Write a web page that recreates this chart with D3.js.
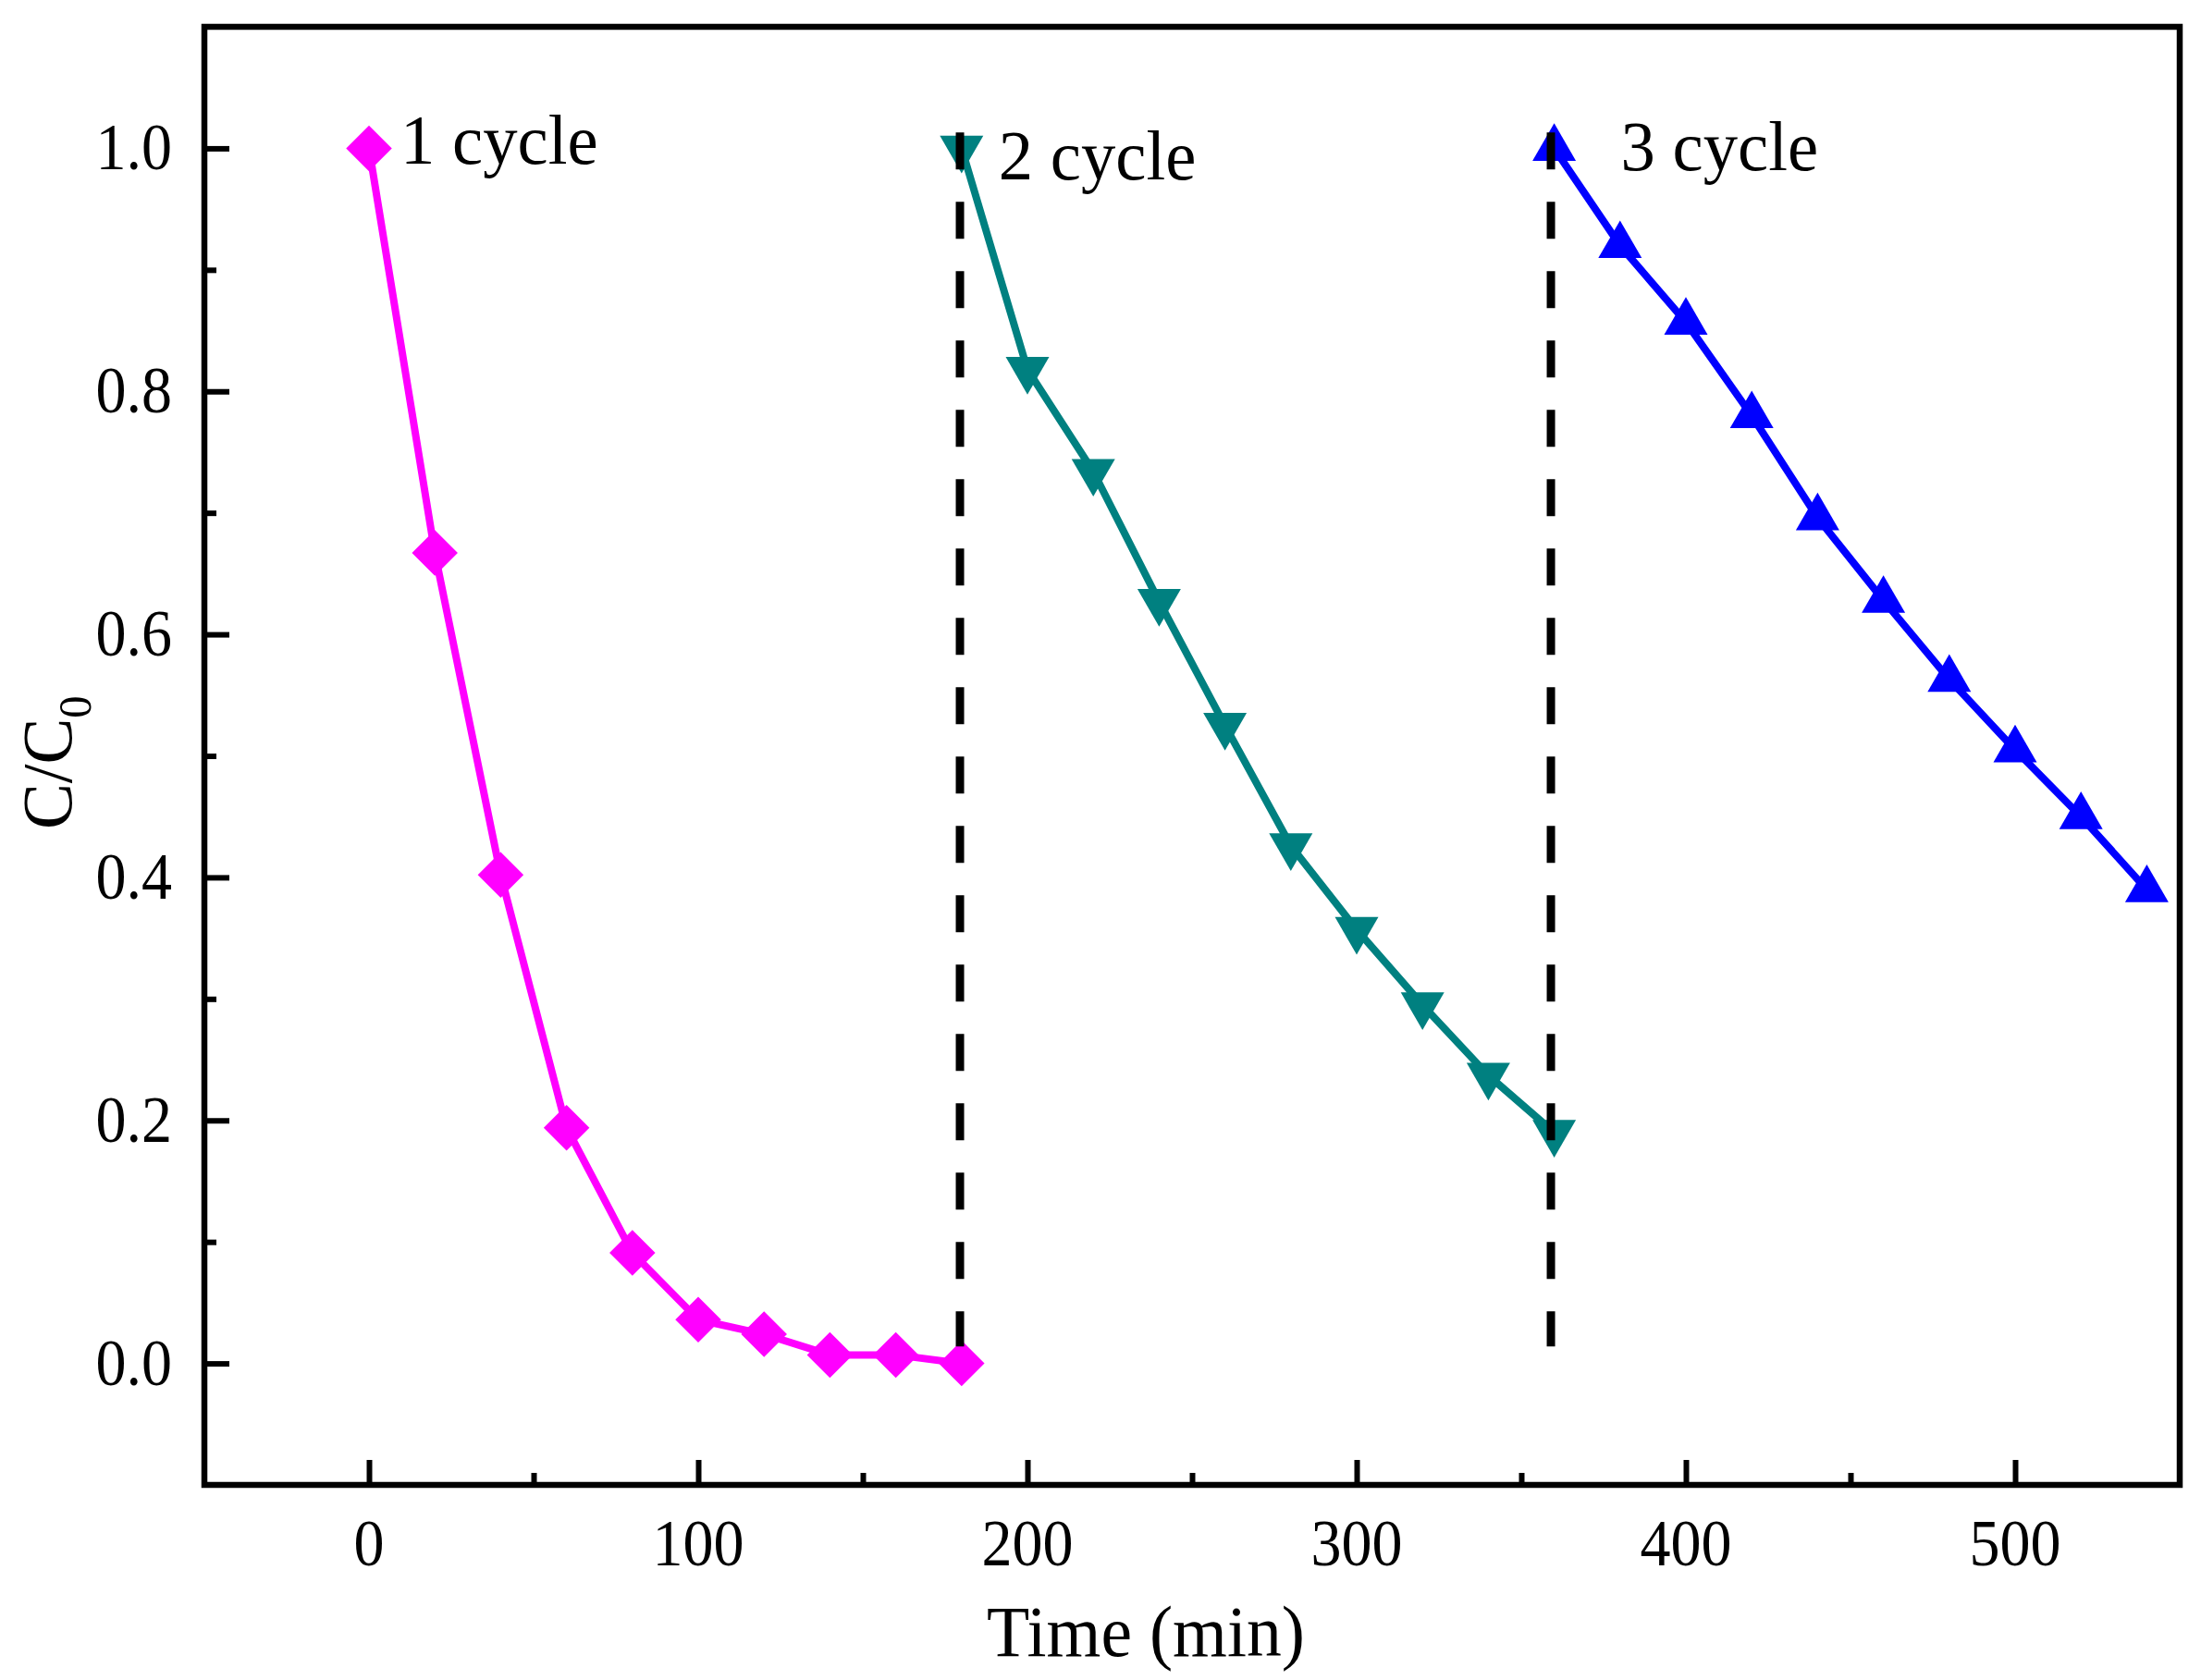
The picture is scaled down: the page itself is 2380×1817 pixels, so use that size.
<!DOCTYPE html>
<html>
<head>
<meta charset="utf-8">
<script src="https://cdn.jsdelivr.net/npm/d3@7"></script>
<style>
  html, body { margin: 0; padding: 0; background: #ffffff; }
  svg { display: block; }
  text { font-family: "Liberation Serif", "Times New Roman", serif; fill: #000; }
</style>
</head>
<body>
<script>
// ---- data ----
const time1 = [0, 20, 40, 60, 80, 100, 120, 140, 160, 180];
const cycle1 = [1.0, 0.667, 0.402, 0.194, 0.091, 0.036, 0.024, 0.007, 0.007, 0.0];
const time2 = [180, 200, 220, 240, 260, 280, 300, 320, 340, 360];
const cycle2 = [1.0, 0.818, 0.734, 0.627, 0.525, 0.426, 0.357, 0.295, 0.237, 0.19];
const time3 = [360, 380, 400, 420, 440, 460, 480, 500, 520, 540];
const cycle3 = [1.0, 0.92, 0.857, 0.78, 0.696, 0.628, 0.563, 0.505, 0.45, 0.39];
const cycleLabels = ["1 cycle", "2 cycle", "3 cycle"];
const dividerTimes = [179.5, 359];
const dividerRange = [1.013, 0.014];
const xTicks = [0, 100, 200, 300, 400, 500];
const xMinorTicks = [50, 150, 250, 350, 450];
const yTicks = [0.0, 0.2, 0.4, 0.6, 0.8, 1.0];
const yMinorTicks = [0.1, 0.3, 0.5, 0.7, 0.9];
const xDomain = [-50, 550];
const yDomain = [-0.1, 1.1];

// ---- layout ----
const W = 2380, H = 1817;
const L = 221, R = 2357, T = 29, B = 1606;
const SX_TICK = 0.93;  // horizontal condensing for tick labels
const SX_TEXT = 0.97;  // for titles and annotations

const svg = d3.select("body").append("svg").attr("width", W).attr("height", H);
svg.append("rect").attr("width", W).attr("height", H).attr("fill", "#fff");

const x = d3.scaleLinear().domain(xDomain).range([L, R]);
const y = d3.scaleLinear().domain(yDomain).range([B, T]);

// ticks (inward, bottom & left only)
const tickW = 6;
const xAxis = svg.append("g").attr("transform", `translate(0,${B})`)
  .call(d3.axisBottom(x).tickValues(xTicks).tickSize(-27).tickFormat(""));
const xAxisMinor = svg.append("g").attr("transform", `translate(0,${B})`)
  .call(d3.axisBottom(x).tickValues(xMinorTicks).tickSize(-13).tickFormat(""));
const yAxis = svg.append("g").attr("transform", `translate(${L},0)`)
  .call(d3.axisLeft(y).tickValues(yTicks).tickSize(-27).tickFormat(""));
const yAxisMinor = svg.append("g").attr("transform", `translate(${L},0)`)
  .call(d3.axisLeft(y).tickValues(yMinorTicks).tickSize(-13).tickFormat(""));
[xAxis, xAxisMinor, yAxis, yAxisMinor].forEach(g => {
  g.select(".domain").remove();
  g.selectAll(".tick line").attr("stroke", "#000").attr("stroke-width", tickW);
});

// tick labels
const tickFont = 71;
svg.append("g").selectAll("g").data(xTicks).join("g")
  .attr("transform", d => `translate(${x(d)},1693) scale(${SX_TICK},1)`)
  .append("text").attr("text-anchor", "middle").attr("font-size", tickFont)
  .text(d => d3.format("d")(d));
svg.append("g").selectAll("g").data(yTicks).join("g")
  .attr("transform", d => `translate(186,${y(d) + 23}) scale(${SX_TICK},1)`)
  .append("text").attr("text-anchor", "end").attr("font-size", tickFont)
  .text(d => d3.format(".1f")(d));

// axis titles
svg.append("g").attr("transform", `translate(1239,1791) scale(${SX_TEXT},1)`)
  .append("text").attr("text-anchor", "middle").attr("font-size", 78).text("Time (min)");
const yt = svg.append("g").attr("transform", `translate(77,897) rotate(-90) scale(${SX_TEXT},1)`)
  .append("text").attr("text-anchor", "start").attr("font-size", 77);
yt.append("tspan").text("C/C");
yt.append("tspan").attr("font-size", 50).attr("dy", 21).text("0");

// series
const series = [
  { t: time1, v: cycle1, color: "#FF00FF", symbol: "diamond" },
  { t: time2, v: cycle2, color: "#008080", symbol: "down" },
  { t: time3, v: cycle3, color: "#0000FF", symbol: "up" }
];
const line = d3.line().x(d => x(d[0])).y(d => y(d[1]));
const diamond = d3.symbol().type(d3.symbolSquare).size(35 * 35)();
const tri = d3.symbol().type(d3.symbolTriangle).size(0.433 * 47 * 47)();

series.forEach(s => {
  const pts = s.t.map((t, i) => [t, s.v[i]]);
  const g = svg.append("g");
  g.append("path").datum(pts).attr("d", line)
    .attr("fill", "none").attr("stroke", s.color).attr("stroke-width", 8)
    .attr("stroke-linejoin", "round");
  g.selectAll("path.m").data(pts).join("path").attr("class", "m")
    .attr("d", s.symbol === "diamond" ? diamond : tri)
    .attr("transform", d => {
      const base = `translate(${x(d[0])},${y(d[1])})`;
      if (s.symbol === "diamond") return base + " rotate(45)";
      if (s.symbol === "down") return base + " rotate(180)";
      return base;
    })
    .attr("fill", s.color);
});

// dashed dividers
svg.append("g").selectAll("line").data(dividerTimes).join("line")
  .attr("x1", d => x(d)).attr("x2", d => x(d))
  .attr("y1", y(dividerRange[0])).attr("y2", y(dividerRange[1]))
  .attr("stroke", "#000").attr("stroke-width", 9)
  .attr("stroke-dasharray", "40,35");

// cycle labels
const labelPos = [[0, 1.0], [180, 1.0], [360, 1.0]];
const labelOffsets = [[34, 17], [40, 34], [72, 24]];
svg.append("g").selectAll("g").data(cycleLabels).join("g")
  .attr("transform", (d, i) => `translate(${x(labelPos[i][0]) + labelOffsets[i][0]},${y(labelPos[i][1]) + labelOffsets[i][1]}) scale(${SX_TEXT},1)`)
  .append("text").attr("font-size", 77).text(d => d);

// frame
svg.append("rect").attr("x", L).attr("y", T).attr("width", R - L).attr("height", B - T)
  .attr("fill", "none").attr("stroke", "#000").attr("stroke-width", 6.5);
</script>
</body>
</html>
